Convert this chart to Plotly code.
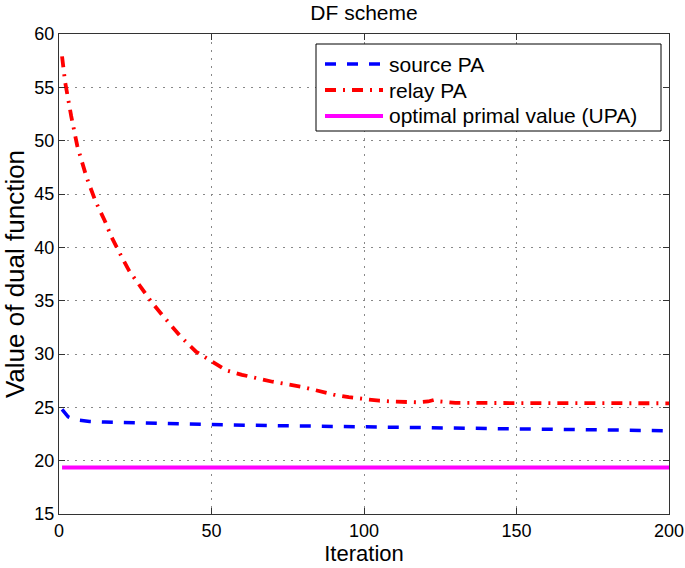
import plotly.graph_objects as go

# ---- data ----
source_iter = [1, 2, 3, 5, 7, 10, 15, 20, 30, 50, 75, 100, 125, 150, 175, 190, 200]
source_val = [24.8, 24.4, 24.1, 23.85, 23.75, 23.68, 23.62, 23.58, 23.5, 23.38,
              23.27, 23.15, 23.07, 22.98, 22.9, 22.84, 22.8]

relay_iter = [1, 2, 4, 6, 9, 12, 15, 17, 20, 23, 27, 30, 34, 40, 45, 50, 55, 60,
              65, 70, 80, 85, 90, 95, 100, 105, 110, 118, 121, 123, 125, 130,
              150, 175, 200]
relay_val = [57.9, 55.5, 52.3, 49.5, 46.6, 44.3, 42.5, 41.1, 39.4, 37.8, 36.2,
             35.0, 33.6, 31.6, 30.2, 29.3, 28.45, 28.05, 27.7, 27.4, 26.9, 26.55,
             26.2, 25.95, 25.75, 25.62, 25.53, 25.47, 25.55, 25.7, 25.55, 25.42,
             25.4, 25.38, 25.38]

upa_iter = [1, 200]
upa_val = [19.35, 19.35]

x_ticks = [0, 50, 100, 150, 200]
y_ticks = [15, 20, 25, 30, 35, 40, 45, 50, 55, 60]

series_names = ["source PA", "relay PA", "optimal primal value (UPA)"]
series_colors = ["#0000ff", "#ff0000", "#ff00ff"]
series_dash = ["11px,11px", "11px,7px,2px,7px", "solid"]
series_width = [3.5, 3.8, 4]

FONT = "Liberation Sans, Arial, Helvetica, sans-serif"

fig = go.Figure()
for xs, ys, nm, c, d, w in zip([source_iter, relay_iter, upa_iter],
                               [source_val, relay_val, upa_val],
                               series_names, series_colors, series_dash, series_width):
    fig.add_trace(go.Scatter(x=xs, y=ys, mode="lines", name=nm,
                             line=dict(color=c, width=w, dash=d)))

axis_common = dict(
    showline=True, linecolor="#333333", linewidth=1, mirror="ticks",
    ticks="inside", ticklen=6, tickcolor="#333333", tickwidth=1,
    showgrid=True, gridcolor="#888888", gridwidth=1, griddash="1.5px,6.5px",
    zeroline=False, automargin=False,
    tickfont=dict(family=FONT, size=18, color="#000000"),
)

fig.update_xaxes(range=[0, 200], tickvals=x_ticks, ticktext=[str(v) for v in x_ticks],
                 title=dict(text="Iteration", font=dict(family=FONT, size=22, color="#000"),
                            standoff=4),
                 **axis_common)
fig.update_yaxes(range=[15, 60], tickvals=y_ticks, ticktext=[str(v) for v in y_ticks],
                 title=dict(text="Value of dual function",
                            font=dict(family=FONT, size=26, color="#000"), standoff=7),
                 **axis_common)

# ---- legend drawn in the axes' domain, like the MATLAB legend box ----
PX_L, PX_R, PX_T, PX_B = 59, 669, 34, 514


def dx(px):
    return (px - PX_L) / (PX_R - PX_L)


def dy(py):
    return (PX_B - py) / (PX_B - PX_T)


fig.add_shape(type="rect", xref="x domain", yref="y domain",
              x0=dx(316), x1=dx(661), y0=dy(131), y1=dy(44),
              line=dict(color="#000000", width=1), fillcolor="white", layer="above")
row_y = [64, 90, 116]
for ry, nm, c, d, w in zip(row_y, series_names, series_colors, series_dash, series_width):
    fig.add_shape(type="line", xref="x domain", yref="y domain",
                  x0=dx(325), x1=dx(383), y0=dy(ry), y1=dy(ry),
                  line=dict(color=c, width=w, dash=d), layer="above")
    fig.add_annotation(xref="x domain", yref="y domain", x=dx(387), y=dy(ry),
                       xanchor="left", yanchor="middle", showarrow=False, text=nm,
                       font=dict(family=FONT, size=21, color="#000"))

fig.update_layout(
    width=685, height=568,
    margin=dict(l=59, r=16, t=34, b=54, pad=0),
    paper_bgcolor="white", plot_bgcolor="white",
    title=dict(text="DF scheme", x=(59 + 669) / 2 / 685, xanchor="center",
               y=1 - 13 / 568, yanchor="middle",
               font=dict(family=FONT, size=21, color="#000")),
    showlegend=False,
)

fig.write_html("out.html",
               config={"displayModeBar": False},
               post_script="document.body.style.margin='0';"
                           "document.body.style.overflow='hidden';")
